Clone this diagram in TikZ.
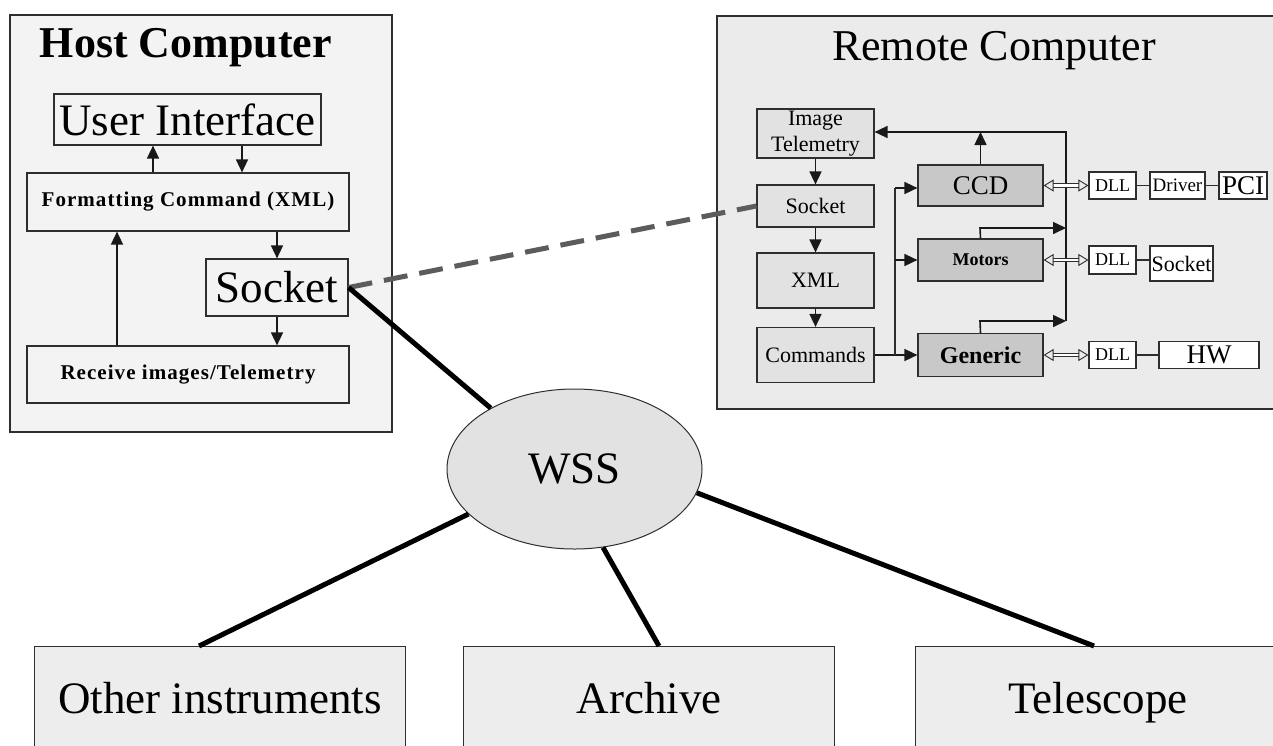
\documentclass[tikz,border=0pt]{standalone}
\usepackage{fontspec}
\setmainfont{Liberation Serif}
\usetikzlibrary{arrows.meta,shapes.geometric}
\definecolor{edgec}{HTML}{2E2E2E}
\definecolor{hostfill}{HTML}{F3F3F3}
\definecolor{remfill}{HTML}{EBEBEB}
\definecolor{lightfill}{HTML}{E2E2E2}
\definecolor{darkfill}{HTML}{C8C8C8}
\definecolor{wssfill}{HTML}{E2E2E2}
\definecolor{destfill}{HTML}{EDEDED}
\definecolor{dashc}{HTML}{5C5C5C}
\newcommand{\setfs}[1]{\fontsize{#1}{#1}\selectfont}
\begin{document}
\begin{tikzpicture}[x=1pt,y=-1pt,
  box/.style={draw=edgec, line width=1.2pt, rectangle, inner sep=0pt, anchor=center},
  hostpart/.style={box, fill=hostfill},
  lightbox/.style={box, fill=lightfill},
  darkbox/.style={box, fill=darkfill},
  whitebox/.style={box, fill=white},
  destbox/.style={box, fill=destfill, anchor=north west},
  arr/.style={draw=black!90, line width=1.6pt, -{Triangle[length=13pt,width=12pt]}},
  plainline/.style={draw=edgec, line width=1.2pt},
  dbl/.style={draw=edgec, line width=0.9pt, double=white, double distance=2.8pt,
    {Triangle[open,length=10pt,width=12pt]}-{Triangle[open,length=10pt,width=12pt]}},
  link/.style={draw=black, line width=5pt},
  dashlink/.style={draw=dashc, line width=5pt, dash pattern=on 24pt off 12pt}
]
\useasboundingbox (0,0) rectangle (1273,745);
\fill[white] (0,0) rectangle (1273,745);

% ---------- Host computer ----------
\node[box, fill=hostfill, minimum width=382pt, minimum height=417pt] (host) at (201,223.5) {};
\node[anchor=base, font=\bfseries\setfs{44}] (hosttitle) at (186,57) {Host Computer};
\node[hostpart, minimum width=267pt, minimum height=51pt, font=\setfs{45}] (ui) at (187.5,119.5) {User Interface};
\node[hostpart, minimum width=322pt, minimum height=58pt, font=\bfseries\setfs{21}\addfontfeatures{LetterSpace=5}] (fmt) at (188,202) {Formatting Command (XML)};
\node[hostpart, minimum width=142pt, minimum height=57pt, font=\setfs{45}] (sock) at (277,287.5) {Socket};
\node[hostpart, minimum width=322pt, minimum height=57pt, font=\bfseries\setfs{21}\addfontfeatures{LetterSpace=5}] (recv) at (188,374.5) {Receive images/Telemetry};

\draw[arr] (fmt.north -| 153,0) -- (ui.south -| 153,0);
\draw[arr] (ui.south -| 242,0) -- (fmt.north -| 242,0);
\draw[arr] (fmt.south -| sock.north) -- (sock.north);
\draw[arr] (sock.south) -- (sock.south |- recv.north);
\draw[arr] (recv.north -| 117,0) -- (fmt.south -| 117,0);

% ---------- Remote computer ----------
\node[box, fill=remfill, minimum width=563pt, minimum height=393pt] (remote) at (998.5,212.5) {};
\node[anchor=base, font=\setfs{44}] (remtitle) at (994,60) {Remote Computer};

\node[lightbox, minimum width=117pt, minimum height=49pt, align=center, font=\fontsize{22}{26}\selectfont] (imt) at (815.5,133.5) {Image\\Telemetry};
\node[lightbox, minimum width=117pt, minimum height=42pt, font=\setfs{22}] (rsock) at (815.5,206) {Socket};
\node[lightbox, minimum width=117pt, minimum height=55pt, font=\setfs{22}] (xml) at (815.5,280.5) {XML};
\node[lightbox, minimum width=117pt, minimum height=55pt, font=\setfs{22}] (cmds) at (815.5,355) {Commands};

\node[darkbox, minimum width=125pt, minimum height=41pt, font=\setfs{27}] (ccd) at (980.5,185.5) {CCD};
\node[darkbox, minimum width=125pt, minimum height=42pt, font=\bfseries\setfs{18}] (motors) at (980.5,260) {Motors};
\node[darkbox, minimum width=125pt, minimum height=43pt, font=\bfseries\setfs{24}] (generic) at (980.5,355) {Generic};

\node[whitebox, minimum width=47pt, minimum height=27pt, font=\setfs{18}] (dll1) at (1112.5,185.5) {DLL};
\node[whitebox, minimum width=55pt, minimum height=27pt, font=\setfs{19}] (driver) at (1177.5,185.5) {Driver};
\node[whitebox, minimum width=48pt, minimum height=27pt, font=\setfs{27}] (pci) at (1243,185.5) {PCI};
\node[whitebox, minimum width=47pt, minimum height=28pt, font=\setfs{18}] (dll2) at (1112.5,260) {DLL};
\node[whitebox, minimum width=63pt, minimum height=35pt, font=\setfs{22}] (rsock2) at (1181.5,263.5) {Socket};
\node[whitebox, minimum width=47pt, minimum height=27pt, font=\setfs{18}] (dll3) at (1112.5,355) {DLL};
\node[whitebox, minimum width=100pt, minimum height=27pt, font=\setfs{27}] (hw) at (1209,355) {HW};

\coordinate (split) at (895,0);
\coordinate (bus) at (1066,0);
\coordinate (gtop) at (980,321);
\coordinate (mtop) at (980,228);
\coordinate (btop) at (1066,132);
\coordinate (bbot) at (1066,321);

\draw[arr] (imt.south) -- (rsock.north);
\draw[arr] (rsock.south) -- (xml.north);
\draw[arr] (xml.south) -- (cmds.north);
\draw[arr] (cmds.east) -- (generic.west);
\draw[plainline, line width=1.6pt] (split |- cmds.east) -- (split |- 0,188);
\draw[arr] (split |- 0,188) -- (ccd.west |- 0,188);
\draw[arr] (split |- motors.west) -- (motors.west);

\draw[arr] (generic.north) -- (gtop) -- (bbot);
\draw[arr] (motors.north) -- (mtop) -- (mtop -| bus);
\draw[arr] (bbot) -- (btop) -- (btop -| imt.east);
\draw[arr] (ccd.north) -- (ccd.north |- btop);

\draw[dbl] (ccd.east) -- (dll1.west);
\draw[dbl] (motors.east) -- (dll2.west);
\draw[dbl] (generic.east) -- (dll3.west);
\draw[plainline] (dll1.east) -- (driver.west);
\draw[plainline] (driver.east) -- (pci.west);
\draw[plainline] (dll2.east) -- (dll2.east -| rsock2.west);
\draw[plainline] (dll3.east) -- (hw.west);

% ---------- WSS and the services ----------
\node[ellipse, draw=edgec, line width=1pt, fill=wssfill, minimum width=255pt, minimum height=160pt, inner sep=0pt, font=\setfs{45}] (wss) at (574.5,469) {WSS};

\node[destbox, minimum width=371pt, minimum height=114pt] (other) at (34,646) {};
\node[destbox, minimum width=371pt, minimum height=114pt] (archive) at (463,646) {};
\node[destbox, minimum width=365pt, minimum height=114pt] (telescope) at (915,646) {};
\node[anchor=base, font=\setfs{45}] (othertxt) at ([yshift=-67pt]other.north) {Other instruments};
\node[anchor=base, font=\setfs{45}] (archivetxt) at ([yshift=-67pt]archive.north) {Archive};
\node[anchor=base, font=\setfs{45}] (telescopetxt) at ([yshift=-67pt]telescope.north) {Telescope};

\draw[dashlink] (sock.east) -- (rsock.west);
\draw[link] (sock.east) -- (wss.144);
\draw[link] (wss.203) -- ([xshift=165pt]other.north west);
\draw[link] (wss.290) -- ([xshift=196pt]archive.north west);
\draw[link] (wss.349) -- ([xshift=179pt]telescope.north west);
\end{tikzpicture}
\end{document}
